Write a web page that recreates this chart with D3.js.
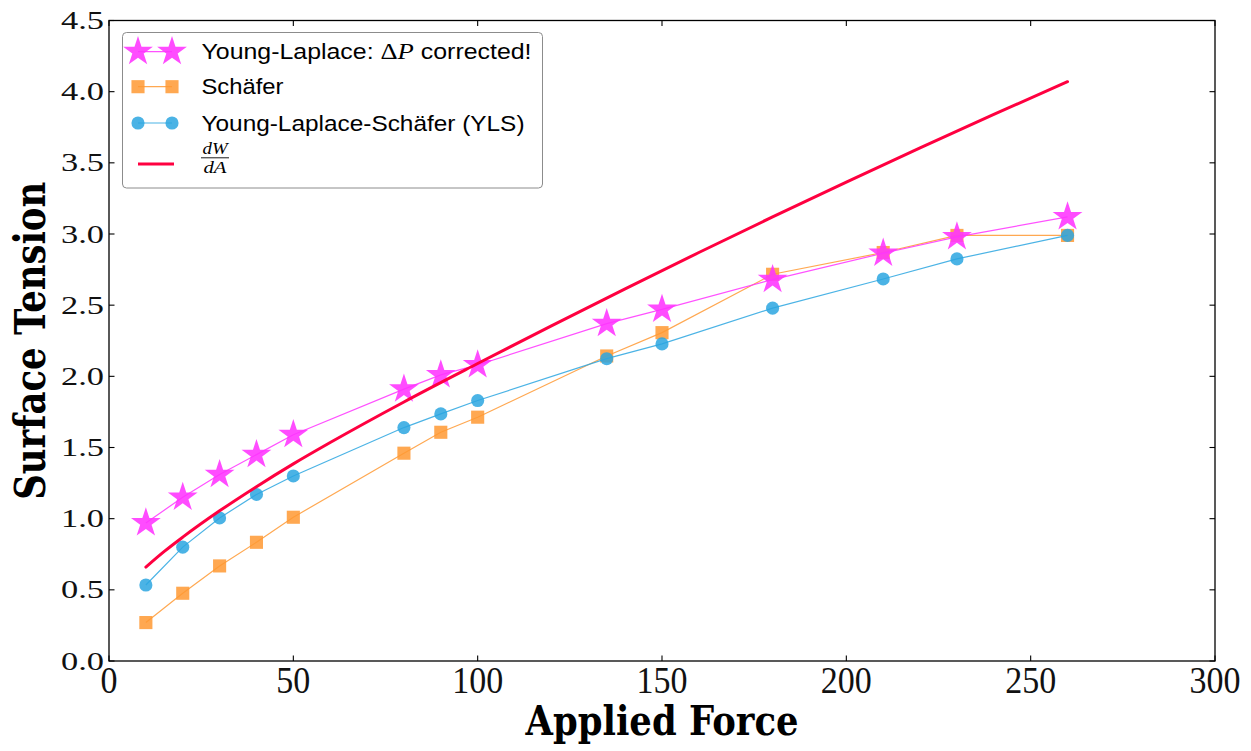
<!DOCTYPE html>
<html>
<head>
<meta charset="utf-8">
<script src="https://cdn.jsdelivr.net/npm/d3@7"></script>
<style>
  html, body { margin: 0; padding: 0; background: #fff; }
  svg { display: block; }
</style>
</head>
<body>
<svg id="chart" width="1251" height="751"></svg>
<script>
// Measured applied force (x) for each experiment
const force = [10, 20, 30, 40, 50, 80, 90, 100, 135, 150, 180, 210, 230, 260];

// Surface tension from the three estimators
const tensionYoungLaplace = [0.97, 1.15, 1.31, 1.45, 1.59, 1.91, 2.01, 2.08, 2.37, 2.47, 2.68, 2.865, 2.98, 3.12];
const tensionSchafer      = [0.27, 0.476, 0.668, 0.834, 1.01, 1.46, 1.607, 1.713, 2.143, 2.307, 2.717, 2.87, 2.99, 2.99];
const tensionYLS          = [0.534, 0.80, 1.005, 1.17, 1.30, 1.64, 1.736, 1.83, 2.124, 2.228, 2.479, 2.684, 2.825, 2.99];

// dW/dA curve
const forceWork   = [10, 15, 20, 30, 40, 50, 60, 80, 100, 120, 140, 160, 180, 200, 220, 240, 260];
const tensionWork = [0.66, 0.77, 0.87, 1.055, 1.225, 1.385, 1.535, 1.82, 2.09, 2.355, 2.615, 2.87, 3.12, 3.365, 3.605, 3.84, 4.07];

// Axis ticks
const xTicks = [0, 50, 100, 150, 200, 250, 300];
const yTicks = [0, 0.5, 1, 1.5, 2, 2.5, 3, 3.5, 4, 4.5];

const svg = d3.select("#chart");
const plot = { left: 109, right: 1215, top: 20.5, bottom: 661 };

const x = d3.scaleLinear().domain([0, 300]).range([plot.left, plot.right]);
const y = d3.scaleLinear().domain([0, 4.5]).range([plot.bottom, plot.top]);

const colors = {
  star: "#ff33ff",
  square: "#ff9933",
  circle: "#2ca6e0",
  work: "#ff0040"
};

const starSym = d3.symbol().type(d3.symbolStar).size(275);
const squareSym = d3.symbol().type(d3.symbolSquare).size(172);
const circleSym = d3.symbol().type(d3.symbolCircle).size(135);

const lineGen = d3.line().x(d => x(d[0])).y(d => y(d[1]));

function series(xs, ys, color, sym, opacity) {
  const pts = xs.map((v, i) => [v, ys[i]]);
  const g = svg.append("g");
  g.append("path")
    .attr("d", lineGen(pts))
    .attr("fill", "none")
    .attr("stroke", color)
    .attr("stroke-opacity", 0.85)
    .attr("stroke-width", 1.2);
  g.selectAll("path.m").data(pts).enter().append("path")
    .attr("class", "m")
    .attr("d", sym)
    .attr("transform", d => `translate(${x(d[0])},${y(d[1])})`)
    .attr("fill", color)
    .attr("fill-opacity", opacity);
}

series(force, tensionSchafer, colors.square, squareSym, 0.85);
series(force, tensionYLS, colors.circle, circleSym, 0.85);
series(force, tensionYoungLaplace, colors.star, starSym, 0.88);

// dW/dA curve
svg.append("path")
  .attr("d", d3.line().curve(d3.curveMonotoneX).x(d => x(d[0])).y(d => y(d[1]))(forceWork.map((v, i) => [v, tensionWork[i]])))
  .attr("fill", "none")
  .attr("stroke", colors.work)
  .attr("stroke-width", 3)
  .attr("stroke-linecap", "round");

// Frame
svg.append("rect")
  .attr("x", plot.left).attr("y", plot.top)
  .attr("width", plot.right - plot.left).attr("height", plot.bottom - plot.top)
  .attr("fill", "none").attr("stroke", "#000").attr("stroke-width", 1.3);

// Inward ticks on all four sides
const tickLen = 5.5;
const ticks = svg.append("g").attr("stroke", "#000").attr("stroke-width", 1.1);
xTicks.forEach(t => {
  ticks.append("line").attr("x1", x(t)).attr("x2", x(t)).attr("y1", plot.bottom).attr("y2", plot.bottom - tickLen);
  ticks.append("line").attr("x1", x(t)).attr("x2", x(t)).attr("y1", plot.top).attr("y2", plot.top + tickLen);
});
yTicks.forEach(t => {
  ticks.append("line").attr("x1", plot.left).attr("x2", plot.left + tickLen).attr("y1", y(t)).attr("y2", y(t));
  ticks.append("line").attr("x1", plot.right).attr("x2", plot.right - tickLen).attr("y1", y(t)).attr("y2", y(t));
});

// Tick labels
const tickFont = "'Liberation Serif', 'DejaVu Serif', serif";
svg.append("g").selectAll("text").data(xTicks).enter().append("text")
  .attr("x", d => x(d))
  .attr("y", 693)
  .attr("text-anchor", "middle")
  .attr("font-family", tickFont)
  .attr("font-size", 37)
  .attr("fill", "#111")
  .attr("textLength", d => String(d).length * 17)
  .attr("lengthAdjust", "spacingAndGlyphs")
  .text(d => d);

svg.append("g").selectAll("text").data(yTicks).enter().append("text")
  .attr("x", 104)
  .attr("y", d => y(d) + 8.5)
  .attr("text-anchor", "end")
  .attr("font-family", tickFont)
  .attr("font-size", 25)
  .attr("fill", "#111")
  .attr("textLength", 43)
  .attr("lengthAdjust", "spacingAndGlyphs")
  .text(d => d3.format(".1f")(d));

// Axis titles
const titleFont = "'DejaVu Serif', 'Liberation Serif', serif";
svg.append("text")
  .attr("x", (plot.left + plot.right) / 2)
  .attr("y", 735)
  .attr("text-anchor", "middle")
  .attr("font-family", titleFont)
  .attr("font-weight", "bold")
  .attr("font-size", 41)
  .attr("textLength", 273)
  .attr("lengthAdjust", "spacingAndGlyphs")
  .text("Applied Force");

svg.append("text")
  .attr("transform", `translate(45,${(plot.top + plot.bottom) / 2}) rotate(-90)`)
  .attr("text-anchor", "middle")
  .attr("font-family", titleFont)
  .attr("font-weight", "bold")
  .attr("font-size", 43)
  .attr("textLength", 318)
  .attr("lengthAdjust", "spacingAndGlyphs")
  .text("Surface Tension");

// Legend
const legend = svg.append("g");
legend.append("rect")
  .attr("x", 122.5).attr("y", 32.5)
  .attr("width", 420).attr("height", 155.5)
  .attr("rx", 4).attr("ry", 4)
  .attr("fill", "#fff")
  .attr("stroke", "#8c8c8c")
  .attr("stroke-width", 1);

const lx1 = 138, lx2 = 172, textX = 201.5;
const rows = [51.7, 86.7, 123, 164];
const legendFont = "'Liberation Sans', Arial, sans-serif";
const legendSize = 21.5;

function legendEntry(rowY, color, sym, opacity) {
  legend.append("line")
    .attr("x1", lx1).attr("x2", lx2).attr("y1", rowY).attr("y2", rowY)
    .attr("stroke", color).attr("stroke-opacity", 0.85).attr("stroke-width", 1.2);
  [lx1, lx2].forEach(px => {
    legend.append("path")
      .attr("d", sym)
      .attr("transform", `translate(${px},${rowY})`)
      .attr("fill", color)
      .attr("fill-opacity", opacity);
  });
}
legendEntry(rows[0], colors.star, starSym, 0.88);
legendEntry(rows[1], colors.square, squareSym, 0.85);
legendEntry(rows[2], colors.circle, circleSym, 0.85);
legend.append("line")
  .attr("x1", lx1).attr("x2", lx1 + 36).attr("y1", rows[3]).attr("y2", rows[3])
  .attr("stroke", colors.work).attr("stroke-width", 3);

const t0 = legend.append("text")
  .attr("x", textX).attr("y", rows[0] + 7.5)
  .attr("font-family", legendFont).attr("font-size", legendSize)
  .attr("textLength", 330)
  .attr("lengthAdjust", "spacingAndGlyphs");
t0.append("tspan").text("Young-Laplace: ");
t0.append("tspan").attr("font-family", "'Liberation Serif', serif").attr("font-size", 23).text("Δ");
t0.append("tspan").attr("font-family", "'Liberation Serif', serif").attr("font-style", "italic").attr("font-size", 23).text("P");
t0.append("tspan").text(" corrected!");

legend.append("text")
  .attr("x", textX).attr("y", rows[1] + 7.5)
  .attr("font-family", legendFont).attr("font-size", legendSize)
  .attr("textLength", 82)
  .attr("lengthAdjust", "spacingAndGlyphs")
  .text("Schäfer");
legend.append("text")
  .attr("x", textX).attr("y", rows[2] + 7.5)
  .attr("font-family", legendFont).attr("font-size", legendSize)
  .attr("textLength", 323)
  .attr("lengthAdjust", "spacingAndGlyphs")
  .text("Young-Laplace-Schäfer (YLS)");

// dW/dA fraction
const fracX = 215;
legend.append("text")
  .attr("x", fracX).attr("y", 153.5)
  .attr("text-anchor", "middle")
  .attr("font-family", "'Liberation Serif', serif").attr("font-style", "italic").attr("font-size", 16)
  .attr("textLength", 25)
  .attr("lengthAdjust", "spacingAndGlyphs")
  .text("dW");
legend.append("line")
  .attr("x1", 201).attr("x2", 229).attr("y1", 157.8).attr("y2", 157.8)
  .attr("stroke", "#000").attr("stroke-width", 0.9);
legend.append("text")
  .attr("x", fracX).attr("y", 173)
  .attr("text-anchor", "middle")
  .attr("font-family", "'Liberation Serif', serif").attr("font-style", "italic").attr("font-size", 16)
  .attr("textLength", 23)
  .attr("lengthAdjust", "spacingAndGlyphs")
  .text("dA");
</script>
</body>
</html>
